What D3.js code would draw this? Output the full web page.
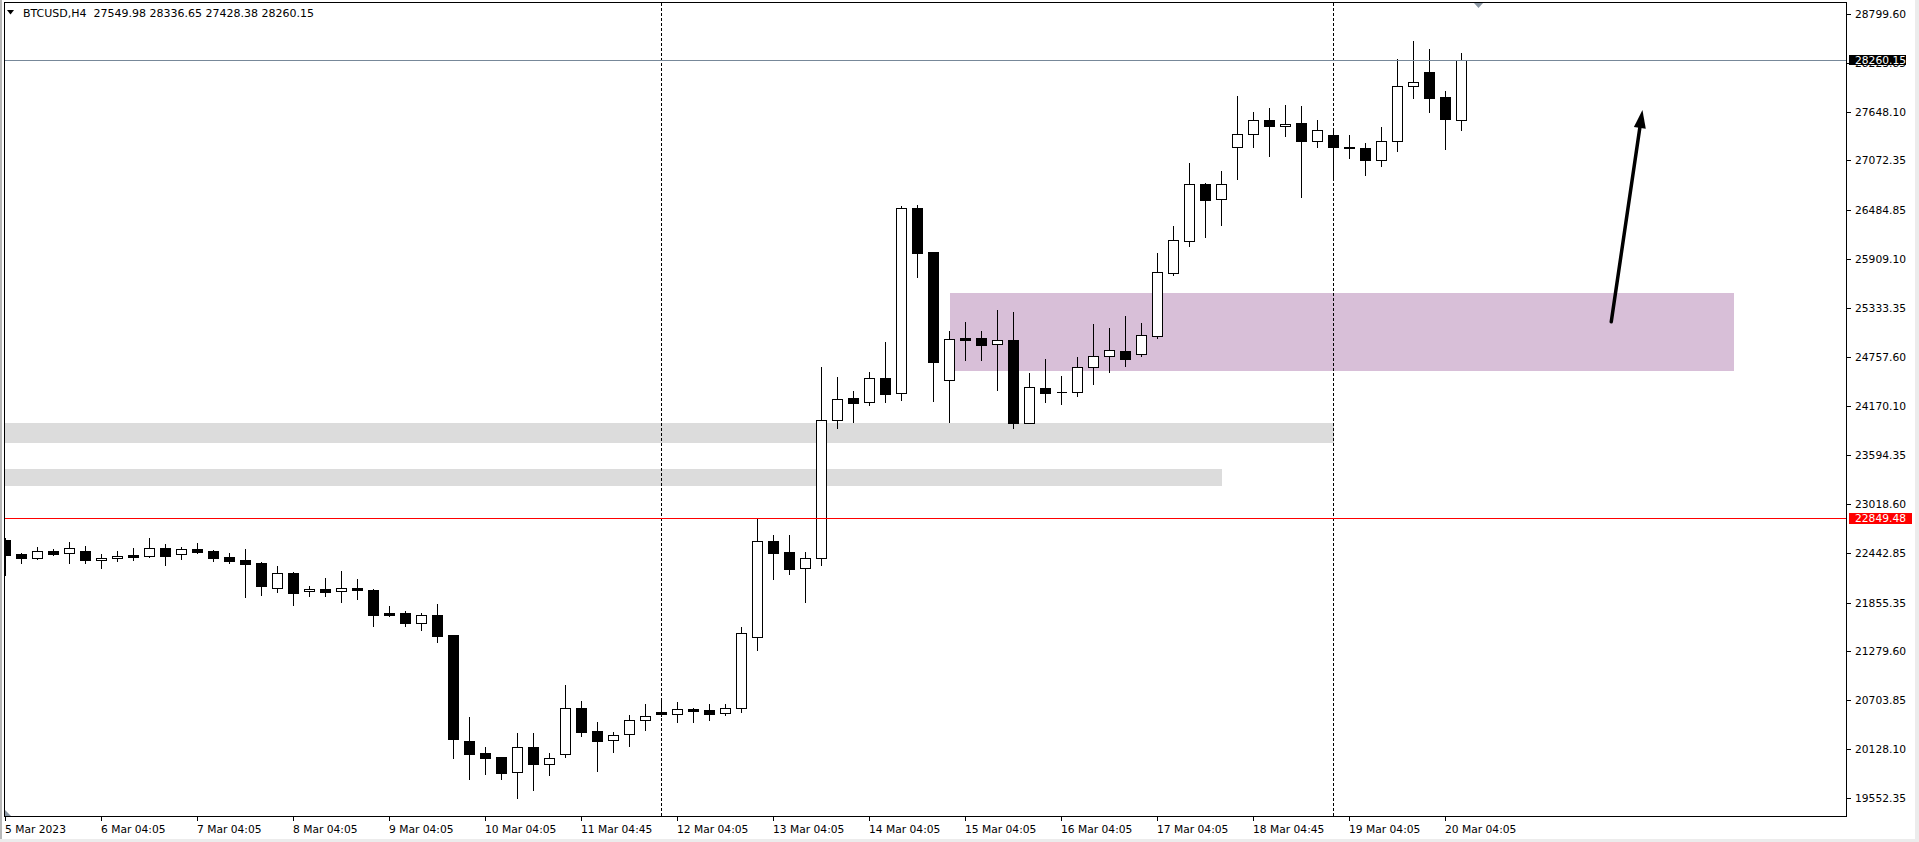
<!DOCTYPE html>
<html><head><meta charset="utf-8">
<script src="https://cdn.jsdelivr.net/npm/d3@7"></script>
<style>html,body{margin:0;padding:0;background:#fff;overflow:hidden}</style>
</head><body>
<svg id="c" width="1919" height="842"></svg>
<script>
// ---------------- DATA ----------------
const title = "BTCUSD,H4";
const headerOHLC = ["27549.98", "28336.65", "27428.38", "28260.15"];

const opens = [22592.8,22424.1,22383.9,22463.0,22435.9,22463.0,22353.3,22376.9,22415.8,22407.5,
22494.9,22424.1,22486.6,22463.0,22392.2,22356.8,22321.4,22029.9,22203.4,21987.5,
22014.6,21987.5,22026.4,22002.8,21727.9,21731.4,21616.9,21707.8,21471.8,20221.0,
20079.4,20032.2,19851.7,20146.7,19946.1,20064.1,20606.9,20335.5,20229.3,20300.1,
20465.3,20559.7,20536.1,20598.6,20586.8,20547.8,20606.9,21444.7,22577.5,22451.2,
22258.9,22376.9,24005.3,24264.9,24224.7,24500.9,24323.9,26506.9,25991.2,24477.3,
24976.4,24972.9,24902.1,24949.3,23976.9,24382.9,24337.0,24335.7,24630.7,24760.5,
24828.9,24784.1,25005.9,25749.3,26126.9,26790.1,26620.1,27226.7,27380.1,27545.3,
27481.5,27509.9,27297.5,27368.3,27230.2,27214.9,27073.3,27297.5,27946.5,28111.7,
27816.7,27549.98];
const highs = [22619.9,22442.9,22510.2,22486.6,22569.2,22522.0,22427.6,22463.0,22498.4,22616.4,
22545.6,22510.2,22557.4,22474.8,22439.4,22486.6,22333.0,22286.0,22215.2,22046.5,
22144.4,22227.0,22132.6,22011.1,21814.0,21751.5,21727.9,21837.6,21471.8,20504.2,
20150.2,20032.2,20315.4,20315.4,20079.4,20881.8,20693.0,20445.2,20327.2,20527.8,
20657.6,20724.9,20681.2,20606.9,20657.6,20657.6,21566.2,22840.6,22651.8,22651.8,
22451.2,24630.7,24516.2,24351.0,24575.2,24929.2,26534.0,26545.8,25991.2,25059.0,
25165.2,25059.0,25306.8,25283.2,24563.4,24728.6,24524.5,24752.2,25141.6,25094.4,
25236.0,25153.4,25979.4,26298.0,27041.4,26801.9,26947.0,27832.0,27643.2,27690.4,
27725.8,27710.5,27548.8,27446.1,27368.3,27273.9,27462.7,28265.1,28477.5,28383.1,
27887.5,28336.65];
const lows = [22179.8,22324.9,22368.6,22419.3,22324.9,22324.9,22265.9,22348.5,22360.3,22392.2,
22297.8,22368.6,22439.4,22345.0,22324.9,21920.2,21943.8,21979.2,21825.8,21932.0,
21932.0,21861.2,21896.6,21578.0,21699.5,21578.0,21530.8,21389.2,20023.9,19776.1,
19835.1,19776.1,19551.9,19646.3,19823.3,20035.7,20283.5,19870.5,20094.7,20165.5,
20354.3,20516.0,20448.7,20448.7,20472.3,20524.3,20566.7,21298.3,22136.1,22195.1,
21864.7,22301.3,23917.9,23988.7,24189.3,24224.7,24248.3,25696.2,24236.5,23988.7,
24716.8,24716.8,24362.8,23917.9,23976.9,24224.7,24201.1,24295.5,24437.1,24578.7,
24646.0,24769.9,24982.3,25719.8,26062.0,26168.2,26313.3,26856.1,27233.7,27127.5,
27360.0,26643.7,27233.7,26856.1,27103.9,26903.3,27009.5,27186.5,27811.9,27646.7,
27210.1,27428.38];
const closes = [22415.8,22383.9,22459.5,22431.1,22494.9,22356.8,22376.9,22400.5,22395.7,22494.9,
22407.5,22483.1,22451.2,22383.9,22348.5,22313.1,22053.5,22203.4,21970.9,22014.6,
21982.7,22026.4,22006.3,21711.3,21711.3,21616.9,21704.3,21460.0,20248.1,20071.1,
20023.9,19846.9,20146.7,19953.1,20016.9,20606.9,20330.7,20224.5,20295.3,20465.3,
20512.5,20536.1,20595.1,20578.5,20543.1,20606.9,21491.9,22577.5,22442.9,22254.1,
22376.9,24005.3,24253.1,24212.9,24500.9,24319.1,26506.9,25982.9,24696.7,24961.1,
24956.3,24897.3,24949.3,23976.9,24394.7,24330.9,24335.7,24630.7,24760.5,24831.3,
24732.1,25008.3,25751.7,26129.3,26790.1,26608.3,26790.1,27380.1,27545.3,27481.5,
27505.1,27304.5,27427.3,27226.7,27218.4,27073.3,27297.5,27946.5,27993.7,27811.9,
27557.1,28260.15];

const timeLabels = ["5 Mar 2023","6 Mar 04:05","7 Mar 04:05","8 Mar 04:05","9 Mar 04:05",
"10 Mar 04:05","11 Mar 04:45","12 Mar 04:05","13 Mar 04:05","14 Mar 04:05","15 Mar 04:05",
"16 Mar 04:05","17 Mar 04:05","18 Mar 04:45","19 Mar 04:05","20 Mar 04:05"];
const timeLabelBars = [0,6,12,18,24,30,36,42,48,54,60,66,72,78,84,90];

const priceTicks = [28799.60,28223.85,27648.10,27072.35,26484.85,25909.10,25333.35,24757.60,
24170.10,23594.35,23018.60,22442.85,21855.35,21279.60,20703.85,20128.10,19552.35];

const bidPrice = 28260.15;
const redLevel = 22849.48;
const vLineBars = [41, 83];
// zones: [fromBar, toBar, topPrice, bottomPrice]
const grayZone1 = [-2, 83, 23973.4, 23737.4];
const grayZone2 = [-2, 76, 23430.6, 23233.5];
const purpleZone = [59, 108, 25503.9, 24590.5];
// arrow: [bar, price] start and end
const arrowFrom = [100.36, 25168.7];
const arrowTo = [102.31, 27666.8];

// ---------------- DRAW ----------------
const svg = d3.select('#c');
const FONT = "DejaVu Sans";
const L = 4.5, T = 2.5, R = 1846.5, B = 816.5;

const x = d3.scaleLinear().domain([0, 91]).range([5.5, 1461.5]);
const y = d3.scaleLinear().domain([19552.35, 28799.60]).range([797.7, 14]);
const ry = v => Math.round(y(v)) + 0.5;

svg.append('rect').attr('width',1919).attr('height',842).attr('fill','#fff');
// window edges
svg.append('rect').attr('x',0).attr('y',0).attr('width',2).attr('height',842).attr('fill','#b8b8b8');
svg.append('rect').attr('x',1915).attr('y',0).attr('width',4).attr('height',842).attr('fill','#ececec');
svg.append('rect').attr('x',0).attr('y',839).attr('width',1919).attr('height',3).attr('fill','#ececec');

svg.append('defs').append('clipPath').attr('id','pc').append('rect')
  .attr('x',5).attr('y',3).attr('width',1841).attr('height',813);
const g = svg.append('g').attr('clip-path','url(#pc)');

function zone(z, color){
  const x0 = z[0] < 0 ? 0 : Math.round(x(z[0])) , x1 = Math.round(x(z[1]));
  const y0 = Math.round(y(z[2])), y1 = Math.round(y(z[3]));
  g.append('rect').attr('x',x0).attr('y',y0).attr('width',x1-x0).attr('height',y1-y0).attr('fill',color);
}
zone(grayZone1,'#dcdcdc');
zone(grayZone2,'#dcdcdc');
zone(purpleZone,'#d8bfd8');

// dashed vertical lines
g.selectAll('line.vl').data(vLineBars).enter().append('line')
  .attr('x1',d=>x(d)).attr('x2',d=>x(d)).attr('y1',3).attr('y2',816)
  .attr('stroke','#000').attr('stroke-width',1).attr('stroke-dasharray','3,2')
  .attr('shape-rendering','crispEdges');

// candles
const bars = d3.range(opens.length).map(i => ({i, o:opens[i], h:highs[i], l:lows[i], c:closes[i]}));
g.selectAll('line.wick').data(bars).enter().append('line')
  .attr('x1',d=>x(d.i)).attr('x2',d=>x(d.i))
  .attr('y1',d=>Math.round(y(d.h))).attr('y2',d=>Math.round(y(d.l))+1)
  .attr('stroke','#000').attr('stroke-width',1).attr('shape-rendering','crispEdges');
g.selectAll('path.body').data(bars).enter().append('path')
  .attr('d', d => {
    const x0 = x(d.i) - 5, x1 = x(d.i) + 5;
    const y0 = ry(Math.max(d.o,d.c)), y1 = ry(Math.min(d.o,d.c));
    return `M${x0},${y0}H${x1}V${y1}H${x0}Z`;
  })
  .attr('fill', d => d.c < d.o ? '#000' : '#fff')
  .attr('stroke','#000').attr('stroke-width',1).attr('shape-rendering','crispEdges');

// horizontal lines
g.append('line').attr('x1',0).attr('x2',1846).attr('y1',ry(redLevel)).attr('y2',ry(redLevel))
  .attr('stroke','#ff0000').attr('stroke-width',1).attr('shape-rendering','crispEdges');
g.append('line').attr('x1',0).attr('x2',1846).attr('y1',ry(bidPrice)).attr('y2',ry(bidPrice))
  .attr('stroke','#778899').attr('stroke-width',1).attr('shape-rendering','crispEdges');

// arrow
(function(){
  const x0 = x(arrowFrom[0]), y0 = y(arrowFrom[1]);
  const x1 = x(arrowTo[0]), y1 = y(arrowTo[1]);
  const dx = x1-x0, dy = y1-y0, len = Math.hypot(dx,dy);
  const ux = dx/len, uy = dy/len, px = -uy, py = ux;
  const hl = 18, hw = 6;
  const bx = x1 - ux*hl, by = y1 - uy*hl;
  g.append('line').attr('x1',x0).attr('y1',y0).attr('x2',bx+ux*2).attr('y2',by+uy*2)
    .attr('stroke','#000').attr('stroke-width',3.5).attr('stroke-linecap','round');
  g.append('path').attr('d',`M${x1},${y1}L${bx+px*hw},${by+py*hw}L${bx-px*hw},${by-py*hw}Z`)
    .attr('fill','#000');
})();

// frame
svg.append('rect').attr('x',L).attr('y',T).attr('width',R-L).attr('height',B-T)
  .attr('fill','none').attr('stroke','#000').attr('stroke-width',1);

// small markers
svg.append('path').attr('d','M1474,3L1483,3L1478.5,8Z').attr('fill','#8a96a3');
svg.append('path').attr('d','M5,810L5,816L11,816Z').attr('fill','#8a96a3');

// header
svg.append('path').attr('d','M7,10L14,10L10.5,14.5Z').attr('fill','#000');
svg.append('text').attr('x',23).attr('y',17).attr('font-family',FONT).attr('font-size','11px')
  .attr('fill','#000').style('white-space','pre')
  .text(title + "  " + headerOHLC.join(" "));

// price axis
const pa = svg.append('g');
pa.selectAll('line').data(priceTicks).enter().append('line')
  .attr('x1',1847).attr('x2',1851).attr('y1',d=>ry(d)).attr('y2',d=>ry(d))
  .attr('stroke','#000').attr('shape-rendering','crispEdges');
pa.selectAll('text').data(priceTicks).enter().append('text')
  .attr('x',1855).attr('y',d=>y(d)+4).attr('font-family',FONT).attr('font-size','10.7px')
  .attr('fill','#000').text(d=>d.toFixed(2));

// price labels
function priceLabel(v, bg, x1, h){
  const yc = y(v);
  svg.append('rect').attr('x',1849).attr('y',Math.round(yc - h/2)).attr('width',x1-1849).attr('height',h).attr('fill',bg);
  svg.append('text').attr('x',1855).attr('y',yc+4).attr('font-family',FONT).attr('font-size','10.7px')
    .attr('fill','#fff').text(v.toFixed(2));
}
priceLabel(bidPrice,'#000',1906,10);
priceLabel(redLevel,'#ff0000',1912,11);

// time axis
const ta = svg.append('g');
ta.selectAll('line').data(timeLabelBars).enter().append('line')
  .attr('x1',d=>x(d)).attr('x2',d=>x(d)).attr('y1',817).attr('y2',821)
  .attr('stroke','#000').attr('shape-rendering','crispEdges');
ta.selectAll('text').data(timeLabelBars).enter().append('text')
  .attr('x',d=>x(d)-0.5).attr('y',832.5).attr('font-family',FONT).attr('font-size','10.7px')
  .attr('fill','#000').text((d,k)=>timeLabels[k]);
</script>
</body></html>
